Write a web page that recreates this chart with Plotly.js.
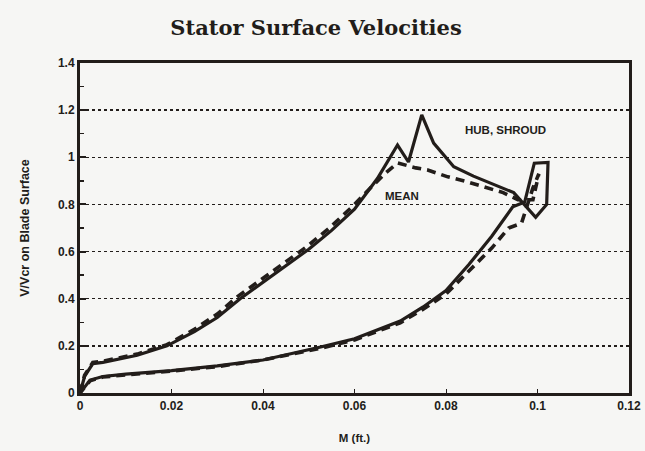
<!DOCTYPE html>
<html>
<head>
<meta charset="utf-8">
<script src="https://cdn.plot.ly/plotly-3.0.1.min.js"></script>
<style>html,body{margin:0;padding:0;background:#f6f6f4;}#chart{width:645px;height:451px;}</style>
</head>
<body>
<div id="chart"></div>
<script>
// Hub/shroud surface velocity (closed loop: suction side LE->TE, TE loop, pressure side TE->LE)
const hubX = [0, 0.0010, 0.0028, 0.0050, 0.0125, 0.0190, 0.0250, 0.0300, 0.0350, 0.0400, 0.0450, 0.0500, 0.0550, 0.0600, 0.0650, 0.0694, 0.0718, 0.0747, 0.0773, 0.0817, 0.0860, 0.0920, 0.0948, 0.0996, 0.1020, 0.1023, 0.0993, 0.0972, 0.0946, 0.0900, 0.0850, 0.0800, 0.0750, 0.0700, 0.0600, 0.0526, 0.0400, 0.0300, 0.0200, 0.0100, 0.0050, 0.0022, 0];
const hubY = [0, 0.070, 0.125, 0.130, 0.160, 0.200, 0.260, 0.320, 0.400, 0.470, 0.540, 0.610, 0.690, 0.780, 0.910, 1.052, 0.980, 1.180, 1.060, 0.960, 0.920, 0.870, 0.850, 0.745, 0.800, 0.978, 0.975, 0.810, 0.790, 0.665, 0.545, 0.435, 0.365, 0.305, 0.230, 0.195, 0.140, 0.115, 0.095, 0.080, 0.070, 0.055, 0];
// Mean-line surface velocity
const meanX = [0, 0.0010, 0.0028, 0.0050, 0.0125, 0.0190, 0.0250, 0.0300, 0.0345, 0.0395, 0.0445, 0.0495, 0.0545, 0.0595, 0.0640, 0.0668, 0.0694, 0.0734, 0.0760, 0.0804, 0.0848, 0.0891, 0.0925, 0.0957, 0.0990, 0.1003, 0.0990, 0.0965, 0.0937, 0.0900, 0.0850, 0.0800, 0.0750, 0.0700, 0.0600, 0.0526, 0.0400, 0.0300, 0.0200, 0.0100, 0.0050, 0.0022, 0];
const meanY = [0, 0.075, 0.130, 0.135, 0.165, 0.205, 0.270, 0.335, 0.410, 0.480, 0.550, 0.620, 0.700, 0.790, 0.880, 0.933, 0.976, 0.955, 0.946, 0.917, 0.895, 0.870, 0.850, 0.820, 0.820, 0.930, 0.870, 0.720, 0.700, 0.615, 0.515, 0.420, 0.355, 0.298, 0.225, 0.190, 0.140, 0.112, 0.093, 0.078, 0.068, 0.052, 0];

const xTicks = [0, 0.02, 0.04, 0.06, 0.08, 0.1, 0.12];
const xTickText = ['0', '0.02', '0.04', '0.06', '0.08', '0.1', '0.12'];
const yTicks = [0, 0.2, 0.4, 0.6, 0.8, 1, 1.2, 1.4];
const yTickText = ['0', '0.2', '0.4', '0.6', '0.8', '1', '1.2', '1.4'];

const ink = '#221d1a';
const data = [
  {x: hubX, y: hubY, mode: 'lines', type: 'scatter', line: {color: ink, width: 3.2}, hoverinfo: 'skip', showlegend: false},
  {x: meanX, y: meanY, mode: 'lines', type: 'scatter', line: {color: ink, width: 3.6, dash: '9px,6px'}, hoverinfo: 'skip', showlegend: false}
];

const tickFont = {family: 'Liberation Sans, Arial', size: 12, color: ink, weight: 'bold'};
const layout = {
  width: 645, height: 451,
  paper_bgcolor: '#f6f6f4', plot_bgcolor: '#f6f6f4',
  margin: {l: 80, r: 16, t: 63, b: 58},
  title: {text: 'Stator Surface Velocities', font: {family: 'DejaVu Serif', size: 21, color: ink, weight: 'bold'}, x: 0.49, xanchor: 'center', y: 0.938, yanchor: 'middle'},
  xaxis: {
    range: [0, 0.12], tickvals: xTicks, ticktext: xTickText, tickfont: tickFont,
    showline: true, linewidth: 3, linecolor: ink, mirror: true,
    ticks: 'inside', ticklen: 4, tickwidth: 1, tickcolor: ink,
    showgrid: false, zeroline: false,
    title: {text: 'M (ft.)', font: {family: 'Liberation Sans, Arial', size: 11.5, color: ink, weight: 'bold'}, standoff: 22}
  },
  yaxis: {
    range: [0, 1.4], tickvals: yTicks, ticktext: yTickText, tickfont: tickFont,
    showline: true, linewidth: 3, linecolor: ink, mirror: true,
    ticks: 'inside', ticklen: 6, tickwidth: 2, tickcolor: ink,
    minor: {dtick: 0.1, ticks: 'inside', ticklen: 4, tickwidth: 1.5, tickcolor: ink, showgrid: false},
    showgrid: true, gridcolor: ink, gridwidth: 1.5, griddash: 'dot',
    zeroline: false,
    title: {text: 'V/Vcr on Blade Surface', font: {family: 'Liberation Sans, Arial', size: 12.5, color: ink, weight: 'bold'}, standoff: 26}
  },
  annotations: [
    {x: 0.0929, y: 1.116, xref: 'x', yref: 'y', text: 'HUB, SHROUD', showarrow: false, font: {family: 'Liberation Sans, Arial', size: 11.5, color: ink, weight: 'bold'}},
    {x: 0.0703, y: 0.836, xref: 'x', yref: 'y', text: 'MEAN', showarrow: false, font: {family: 'Liberation Sans, Arial', size: 11.5, color: ink, weight: 'bold'}}
  ]
};

Plotly.newPlot('chart', data, layout, {staticPlot: true, displayModeBar: false});
</script>
</body>
</html>
